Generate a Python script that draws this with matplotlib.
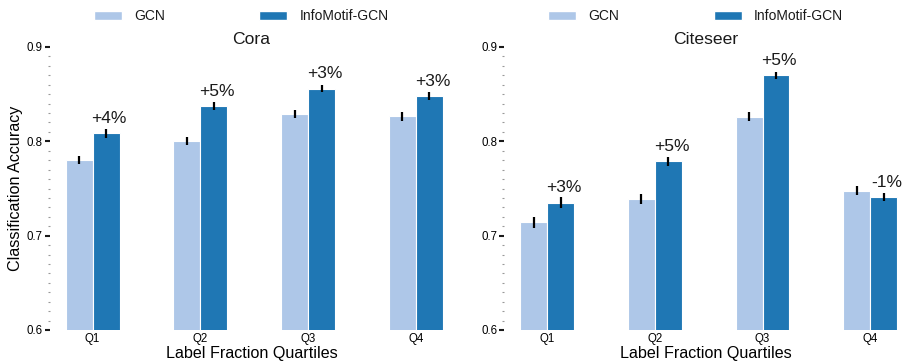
import matplotlib
matplotlib.use("Agg")
import matplotlib.pyplot as plt
from matplotlib.patches import Patch
from matplotlib.ticker import MultipleLocator
import numpy as np

plt.rcParams['font.family'] = ['Liberation Sans', 'DejaVu Sans']
plt.rcParams['text.color'] = '#1a1a1a'

# Accuracy per label-fraction quartile
quartiles = ["Q1", "Q2", "Q3", "Q4"]
datasets = ["Cora", "Citeseer"]

cora_gcn = [0.780, 0.800, 0.829, 0.8265]
cora_gcn_err = [0.0045, 0.0042, 0.0045, 0.0045]
cora_info = [0.8085, 0.8375, 0.856, 0.8477]
cora_info_err = [0.0045, 0.0044, 0.004, 0.0042]

citeseer_gcn = [0.714, 0.739, 0.826, 0.7477]
citeseer_gcn_err = [0.0058, 0.0056, 0.0048, 0.005]
citeseer_info = [0.735, 0.779, 0.870, 0.741]
citeseer_info_err = [0.0056, 0.0048, 0.004, 0.0046]

gcn_color = '#aec7e8'
info_color = '#1f77b4'

fig = plt.figure(figsize=(9.09, 3.61), dpi=100)
ax_w, ax_h = 404 / 909, 283 / 361
ax_b = 31 / 361
axes = [fig.add_axes([49.5 / 909, ax_b, ax_w, ax_h]),
        fig.add_axes([504 / 909, ax_b, ax_w, ax_h])]

series = [(cora_gcn, cora_gcn_err, cora_info, cora_info_err),
          (citeseer_gcn, citeseer_gcn_err, citeseer_info, citeseer_info_err)]

x = np.arange(len(quartiles))
bw = 0.25
for ax, name, (g, ge, f, fe) in zip(axes, datasets, series):
    ekw = dict(ecolor='black', elinewidth=1.6, capsize=0)
    ax.bar(x - bw / 2, g, bw, yerr=ge, color=gcn_color, edgecolor='white',
           linewidth=0.8, error_kw=ekw, bottom=0)
    ax.bar(x + bw / 2, f, bw, yerr=fe, color=info_color, edgecolor='white',
           linewidth=0.8, error_kw=ekw)

    # relative gain of InfoMotif over GCN
    for i in range(len(quartiles)):
        gain = round(100 * (f[i] / g[i] - 1))
        ax.text(x[i] + bw / 2 + 0.03, f[i] + 0.011, f"{gain:+d}%",
                ha='center', va='baseline', fontsize=12.5)

    ax.set_ylim(0.6, 0.9)
    ax.set_xlim(-0.4, 3.35)
    ax.set_xticks(x)
    ax.set_xticklabels(quartiles)
    ax.yaxis.set_major_locator(MultipleLocator(0.1))
    ax.yaxis.set_minor_locator(MultipleLocator(0.01))
    ax.tick_params(axis='x', length=0, pad=2, labelsize=8.3)
    ax.tick_params(axis='y', which='major', length=3.8, width=1.5, pad=1,
                   labelsize=8.3, color='#1a1a1a')
    ax.tick_params(axis='y', which='minor', length=1.2, width=0.8,
                   color='#999999')
    for s in ax.spines.values():
        s.set_visible(False)

    ax.set_title(name, fontsize=12.6, pad=2.4)
    ax.set_xlabel("Label Fraction Quartiles", fontsize=11.6, labelpad=1)

    handles = [Patch(facecolor=gcn_color, edgecolor='white', label='GCN'),
               Patch(facecolor=info_color, edgecolor='white', label='InfoMotif-GCN')]
    ax.legend(handles=handles, loc='center', bbox_to_anchor=(0.4745, 1.1095),
              ncol=2, frameon=False, fontsize=10, handlelength=2.0,
              handleheight=0.6, handletextpad=0.88, columnspacing=6.8)

axes[0].set_ylabel("Classification Accuracy", fontsize=11.6, labelpad=3)

fig.savefig("out.png", dpi=100)
